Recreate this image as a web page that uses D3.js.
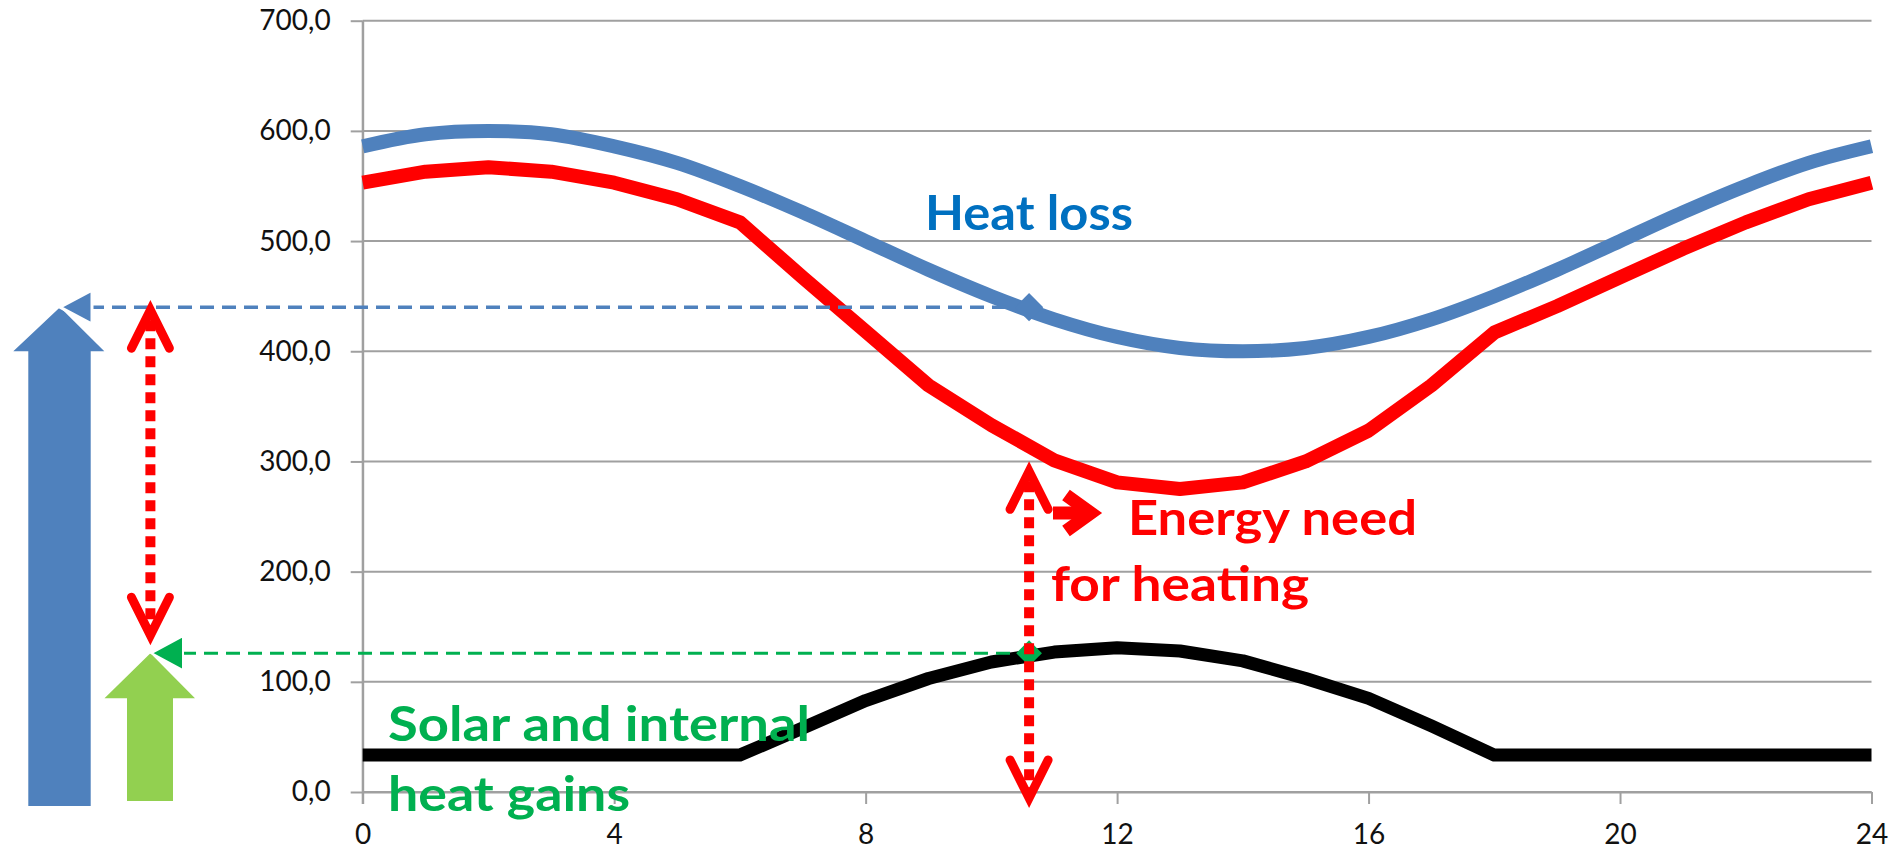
<!DOCTYPE html>
<html>
<head>
<meta charset="utf-8">
<script src="https://cdn.jsdelivr.net/npm/d3@7"></script>
<style>
  html, body { margin: 0; padding: 0; background: #ffffff; }
  svg { display: block; }
  text { font-family: Lato, "Open Sans", "Liberation Sans", sans-serif; }
</style>
</head>
<body>
<svg id="chart" width="1896" height="849"></svg>
<script>
// Hourly profile over one day
const hours = [0, 1, 2, 3, 4, 5, 6, 7, 8, 9, 10, 11, 12, 13, 14, 15, 16, 17, 18, 19, 20, 21, 22, 23, 24];
const heatLoss = [586, 597, 600, 597, 586, 571, 550, 526, 500, 474, 450, 429, 413, 403, 400, 403, 413, 429, 450, 474, 500, 526, 550, 571, 586];
const heatGains = [33.5, 33.5, 33.5, 33.5, 33.5, 33.5, 33.5, 58, 83, 103, 118, 127, 131, 128, 119, 103, 85, 60, 33.5, 33.5, 33.5, 33.5, 33.5, 33.5, 33.5];
const energyNeed = [553, 563, 567, 563, 553, 538, 517, 467, 418, 369, 333, 301, 281, 275, 281, 300, 328, 369, 417, 441, 467, 493, 517, 538, 553];

const yTicks = [0, 100, 200, 300, 400, 500, 600, 700];
const xTicks = [0, 4, 8, 12, 16, 20, 24];

// Reading taken at one hour of the day
const markerHour = 10.6;
const markerHeatLoss = 440;
const markerGains = 126;
const needArrowTop = 291;

const svg = d3.select("#chart");
const W = 1896, H = 849;
svg.append("rect").attr("width", W).attr("height", H).attr("fill", "#ffffff");

const x = d3.scaleLinear().domain([0, 24]).range([362.7, 1871.5]);
const y = d3.scaleLinear().domain([0, 700]).range([792, 20.7]);

const gridColor = "#a0a0a0";

// Horizontal gridlines
svg.append("g")
  .selectAll("line")
  .data(yTicks)
  .join("line")
  .attr("x1", x(0)).attr("x2", x(24))
  .attr("y1", d => y(d)).attr("y2", d => y(d))
  .attr("stroke", gridColor)
  .attr("stroke-width", 2);

const fmt = d3.formatLocale({ decimal: ",", thousands: ".", grouping: [3], currency: ["", "€"] }).format(".1f");

const yAxis = svg.append("g")
  .attr("transform", `translate(${x(0)},0)`)
  .call(d3.axisLeft(y).tickValues(yTicks).tickFormat(fmt).tickSize(12).tickSizeOuter(0).tickPadding(20));

const xAxis = svg.append("g")
  .attr("transform", `translate(0,${y(0)})`)
  .call(d3.axisBottom(x).tickValues(xTicks).tickFormat(d3.format("d")).tickSize(12).tickSizeOuter(0).tickPadding(20));

[yAxis, xAxis].forEach(g => {
  g.select(".domain").attr("stroke", gridColor).attr("stroke-width", 2);
  g.selectAll(".tick line").attr("stroke", gridColor).attr("stroke-width", 2);
  g.selectAll(".tick text")
    .attr("fill", "#111111")
    .style("font-family", "Lato, 'Open Sans', sans-serif")
    .style("font-size", "28px");
});
// Vertical axis runs down to the bottom of the x ticks
svg.append("line")
  .attr("x1", x(0)).attr("x2", x(0))
  .attr("y1", y(700)).attr("y2", y(0) + 12)
  .attr("stroke", gridColor).attr("stroke-width", 2);

// Series
const lineGen = curve => d3.line()
  .x((d, i) => x(hours[i]))
  .y(d => y(d))
  .curve(curve);

svg.append("path")
  .datum(heatGains)
  .attr("d", lineGen(d3.curveLinear))
  .attr("fill", "none")
  .attr("stroke", "#000000")
  .attr("stroke-width", 13)
  .attr("stroke-linejoin", "round");

svg.append("path")
  .datum(energyNeed)
  .attr("d", lineGen(d3.curveLinear))
  .attr("fill", "none")
  .attr("stroke", "#ff0000")
  .attr("stroke-width", 14)
  .attr("stroke-linejoin", "round");

svg.append("path")
  .datum(heatLoss)
  .attr("d", lineGen(d3.curveCatmullRom.alpha(0.5)))
  .attr("fill", "none")
  .attr("stroke", "#4f81bd")
  .attr("stroke-width", 14)
  .attr("stroke-linejoin", "round");

// Left-hand arrows: heat loss (blue) and gains (green)
const yLoss = y(markerHeatLoss);
const yGain = y(markerGains);
const mx = x(markerHour);

const blueArrow = [
  [28.3, y(0) + 14], [28.3, yLoss + 44], [13.3, yLoss + 44], [60, yLoss],
  [104.3, yLoss + 44], [90.7, yLoss + 44], [90.7, y(0) + 14]
];
svg.append("path")
  .attr("d", d3.line()(blueArrow) + "Z")
  .attr("fill", "#4f81bd");

const greenArrow = [
  [127, y(0) + 9], [127, yGain + 45], [104.5, yGain + 45], [150.4, yGain],
  [195, yGain + 45], [173, yGain + 45], [173, y(0) + 9]
];
svg.append("path")
  .attr("d", d3.line()(greenArrow) + "Z")
  .attr("fill", "#92d050");

// Dashed leaders from the readings back to the arrows
svg.append("line")
  .attr("x1", 90).attr("x2", mx)
  .attr("y1", yLoss).attr("y2", yLoss)
  .attr("stroke", "#4f81bd").attr("stroke-width", 3.5)
  .attr("stroke-dasharray", "14,8");
svg.append("path")
  .attr("d", d3.line()([[60, yLoss], [92, yLoss - 17], [92, yLoss + 17]]) + "Z")
  .attr("fill", "#4f81bd")
  .attr("stroke", "#ffffff").attr("stroke-width", 3).attr("stroke-linejoin", "miter");

svg.append("line")
  .attr("x1", 182).attr("x2", mx)
  .attr("y1", yGain).attr("y2", yGain)
  .attr("stroke", "#00b050").attr("stroke-width", 3)
  .attr("stroke-dasharray", "14,8");
svg.append("path")
  .attr("d", d3.line()([[151.5, yGain], [183, yGain - 17], [183, yGain + 17]]) + "Z")
  .attr("fill", "#00b050")
  .attr("stroke", "#ffffff").attr("stroke-width", 2).attr("stroke-linejoin", "miter");

// Point markers on the curves
svg.append("path")
  .attr("d", d3.symbol(d3.symbolSquare, 400)())
  .attr("transform", `translate(${mx},${yLoss}) rotate(45)`)
  .attr("fill", "#4f81bd");
svg.append("path")
  .attr("d", d3.symbol(d3.symbolSquare, 330)())
  .attr("transform", `translate(${mx},${yGain}) rotate(45)`)
  .attr("fill", "#00b050");

// Red dotted double arrows
function dottedArrow(cx, yTop, yBottom) {
  const g = svg.append("g");
  g.append("line")
    .attr("x1", cx).attr("x2", cx)
    .attr("y1", yTop + 10).attr("y2", yBottom - 10)
    .attr("stroke", "#ff0000").attr("stroke-width", 10)
    .attr("stroke-dasharray", "11,7");
  const head = (tipY, dir) => d3.line()([[cx - 19, tipY + dir * 38], [cx, tipY], [cx + 19, tipY + dir * 38]]);
  g.append("path").attr("d", head(yTop, 1))
    .attr("fill", "none").attr("stroke", "#ff0000").attr("stroke-width", 9)
    .attr("stroke-linecap", "round").attr("stroke-linejoin", "miter");
  g.append("path").attr("d", head(yBottom, -1))
    .attr("fill", "none").attr("stroke", "#ff0000").attr("stroke-width", 9)
    .attr("stroke-linecap", "round").attr("stroke-linejoin", "miter");
}
dottedArrow(150.4, yLoss + 3, yGain - 18);
dottedArrow(mx, y(needArrowTop), y(0) + 6);

// Small pointer in front of the energy need label
svg.append("line")
  .attr("x1", 1053).attr("x2", 1088)
  .attr("y1", 513).attr("y2", 513)
  .attr("stroke", "#ff0000").attr("stroke-width", 13);
svg.append("path")
  .attr("d", d3.line()([[1066, 495], [1091, 513], [1066, 531]]))
  .attr("fill", "none").attr("stroke", "#ff0000").attr("stroke-width", 13)
  .attr("stroke-linejoin", "miter").attr("stroke-linecap", "butt");

// Annotations
const labels = [
  { text: "Heat loss", x: 925, y: 230, len: 208, color: "#0070c0" },
  { text: "Energy need", x: 1128, y: 535, len: 289, color: "#ff0000" },
  { text: "for heating", x: 1051, y: 601, len: 258, color: "#ff0000" },
  { text: "Solar and internal", x: 388, y: 741, len: 422, color: "#00b050" },
  { text: "heat gains", x: 388, y: 811, len: 242, color: "#00b050" }
];
svg.append("g")
  .selectAll("text")
  .data(labels)
  .join("text")
  .attr("x", d => d.x)
  .attr("y", d => d.y)
  .attr("textLength", d => d.len)
  .attr("lengthAdjust", "spacingAndGlyphs")
  .attr("fill", d => d.color)
  .style("font-family", "Lato, 'Open Sans', sans-serif")
  .style("font-weight", "bold")
  .style("font-size", "48px")
  .text(d => d.text);
</script>
</body>
</html>
